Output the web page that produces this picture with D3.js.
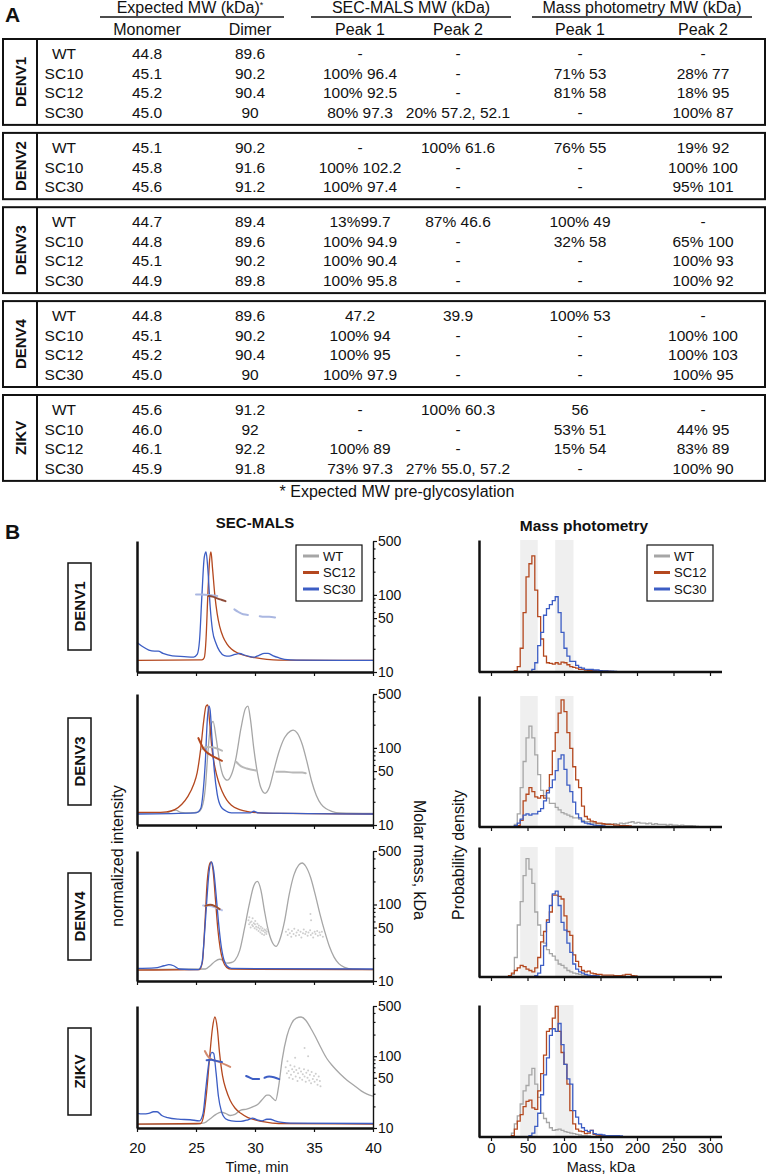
<!DOCTYPE html>
<html>
<head>
<meta charset="utf-8">
<script src="https://cdn.jsdelivr.net/npm/d3@7/dist/d3.min.js"></script>
<style>
html,body{margin:0;padding:0;background:#fff;}
svg{display:block;}
text{font-family:"Liberation Sans",Arial,Helvetica,sans-serif;fill:#111;}
</style>
</head>
<body>
<svg id="chart" width="768" height="1176"></svg>
<script>
// ================= DATA: TABLE (panel A) =================
const groupNames = ["DENV1","DENV2","DENV3","DENV4","ZIKV"];
const groupSizes = [4,3,4,4,4];
const headerGroups = ["Expected MW (kDa)","SEC-MALS MW (kDa)","Mass photometry MW (kDa)"];
const columnHeaders = ["Monomer","Dimer","Peak 1","Peak 2","Peak 1","Peak 2"];
const constructs = ["WT","SC10","SC12","SC30","WT","SC10","SC30","WT","SC10","SC12","SC30","WT","SC10","SC12","SC30","WT","SC10","SC12","SC30"];
const monomerMW = ["44.8","45.1","45.2","45.0","45.1","45.8","45.6","44.7","44.8","45.1","44.9","44.8","45.1","45.2","45.0","45.6","46.0","46.1","45.9"];
const dimerMW = ["89.6","90.2","90.4","90","90.2","91.6","91.2","89.4","89.6","90.2","89.8","89.6","90.2","90.4","90","91.2","92","92.2","91.8"];
const secPeak1 = ["-","100% 96.4","100% 92.5","80% 97.3","-","100% 102.2","100% 97.4","13%99.7","100% 94.9","100% 90.4","100% 95.8","47.2","100% 94","100% 95","100% 97.9","-","-","100% 89","73% 97.3"];
const secPeak2 = ["-","-","-","20% 57.2, 52.1","100% 61.6","-","-","87% 46.6","-","-","-","39.9","-","-","-","100% 60.3","-","-","27% 55.0, 57.2"];
const mpPeak1 = ["-","71% 53","81% 58","-","76% 55","-","-","100% 49","32% 58","-","-","100% 53","-","-","-","56","53% 51","15% 54","-"];
const mpPeak2 = ["-","28% 77","18% 95","100% 87","19% 92","100% 100","95% 101","-","65% 100","100% 93","100% 92","-","100% 100","100% 103","100% 95","-","44% 95","83% 89","100% 90"];
const footnote = "* Expected MW pre-glycosylation";

// ================= DATA: SEC-MALS (time min, normalized intensity) =================
const secTicks = [20,25,30,35,40];
const molarTicks = [10,50,100,500];
const molarMinorTicks = [20,30,40,60,70,80,90,200,300,400];
const legendNames = ["WT","SC12","SC30"];

const secDenv1SC30 = [[20,0.17],[20.5,0.13],[21.0,0.10],[21.5,0.09],[21.8,0.09],[22.2,0.07],[23.0,0.047],[24.0,0.04],[24.8,0.035],[25.1,0.06],[25.3,0.19],[25.5,0.6],[25.7,0.95],[25.85,1.0],[26.0,0.85],[26.2,0.5],[26.4,0.28],[26.7,0.16],[27.0,0.09],[27.4,0.05],[27.8,0.045],[28.3,0.06],[28.7,0.07],[29.1,0.055],[29.6,0.04],[29.9,0.035],[30.3,0.05],[30.8,0.07],[31.1,0.07],[31.5,0.05],[32.0,0.03],[32.5,0.015],[33.5,0.008],[40,0.005]];
const secDenv1SC12 = [[20,0.005],[25.5,0.01],[25.7,0.03],[25.85,0.2],[26.0,0.6],[26.15,0.92],[26.27,1.0],[26.4,0.85],[26.6,0.6],[26.8,0.43],[27.0,0.32],[27.3,0.22],[27.6,0.16],[28.0,0.11],[28.5,0.075],[29.0,0.055],[29.5,0.04],[30.0,0.03],[31.0,0.015],[32,0.008],[40,0.005]];

const secDenv3WT = [[20,0.01],[22.5,0.01],[23.0,0.03],[23.3,0.035],[23.7,0.015],[24.5,0.01],[25.2,0.02],[25.5,0.06],[25.8,0.25],[26.0,0.55],[26.2,0.78],[26.45,0.85],[26.7,0.7],[27.0,0.48],[27.3,0.35],[27.65,0.31],[28.0,0.36],[28.4,0.52],[28.8,0.78],[29.2,0.97],[29.4,0.99],[29.6,0.88],[29.9,0.6],[30.2,0.38],[30.5,0.24],[30.85,0.19],[31.2,0.24],[31.6,0.4],[32.0,0.56],[32.5,0.7],[33.0,0.76],[33.25,0.77],[33.6,0.74],[34.0,0.64],[34.4,0.48],[34.8,0.3],[35.2,0.17],[35.6,0.09],[36.0,0.05],[36.5,0.025],[37.2,0.01],[40,0.005]];
const secDenv3SC12 = [[20,0.015],[21.5,0.015],[22.5,0.02],[23.2,0.04],[23.8,0.09],[24.3,0.16],[24.8,0.27],[25.1,0.38],[25.4,0.6],[25.65,0.85],[25.85,0.99],[26.0,1.0],[26.15,0.85],[26.35,0.6],[26.6,0.43],[26.9,0.3],[27.2,0.21],[27.6,0.13],[28.0,0.08],[28.7,0.04],[29.5,0.02],[30.4,0.01],[32,0.005],[40,0.0]];
const secDenv3SC30 = [[20,0.0],[25.0,0.01],[25.4,0.05],[25.6,0.2],[25.8,0.5],[25.95,0.85],[26.1,0.99],[26.2,0.95],[26.35,0.7],[26.55,0.4],[26.8,0.18],[27.1,0.07],[27.5,0.03],[28.0,0.01],[29.6,0.01],[29.9,0.025],[30.3,0.01],[40,0.0]];

const secDenv4WT = [[20,0.005],[25.8,0.01],[26.2,0.04],[26.6,0.08],[27.0,0.1],[27.3,0.09],[27.6,0.065],[28.0,0.07],[28.3,0.09],[28.7,0.18],[29.1,0.38],[29.5,0.6],[29.9,0.78],[30.2,0.82],[30.5,0.74],[30.8,0.55],[31.1,0.38],[31.45,0.26],[31.8,0.22],[32.1,0.28],[32.5,0.45],[32.9,0.7],[33.3,0.88],[33.7,0.97],[34.0,0.99],[34.3,0.96],[34.7,0.86],[35.1,0.7],[35.5,0.52],[35.9,0.36],[36.3,0.22],[36.7,0.12],[37.1,0.06],[37.6,0.025],[38.3,0.008],[40,0.005]];
const secDenv4SC12 = [[20,0.0],[25.3,0.005],[25.55,0.08],[25.75,0.42],[25.95,0.82],[26.15,0.98],[26.27,1.0],[26.45,0.92],[26.65,0.65],[26.85,0.38],[27.05,0.2],[27.3,0.08],[27.6,0.025],[28.0,0.008],[40,0.005]];
const secDenv4SC30 = [[20,0.015],[21.5,0.02],[22.3,0.04],[22.7,0.05],[23.1,0.04],[23.6,0.01],[25.2,0.005],[25.5,0.06],[25.7,0.3],[25.9,0.62],[26.1,0.9],[26.3,1.0],[26.5,0.92],[26.7,0.7],[26.9,0.45],[27.1,0.25],[27.35,0.1],[27.6,0.04],[28.0,0.015],[40,0.01]];

const secZikvWT = [[20,0.0],[25.0,0.0],[25.7,0.01],[26.2,0.05],[26.7,0.09],[27.1,0.11],[27.5,0.1],[27.9,0.08],[28.3,0.09],[28.8,0.13],[29.3,0.14],[29.8,0.16],[30.3,0.19],[30.7,0.24],[31.0,0.27],[31.2,0.27],[31.5,0.24],[31.75,0.22],[32.0,0.35],[32.3,0.6],[32.7,0.82],[33.1,0.94],[33.5,0.99],[33.9,1.0],[34.3,0.97],[34.7,0.9],[35.1,0.82],[35.6,0.71],[36.1,0.61],[36.6,0.54],[37.2,0.47],[37.8,0.41],[38.4,0.36],[39.0,0.31],[39.5,0.28],[40.0,0.26]];
const secZikvSC12 = [[20,0.0],[25.4,0.005],[25.65,0.08],[25.9,0.3],[26.15,0.62],[26.4,0.9],[26.6,1.0],[26.8,0.9],[27.0,0.66],[27.25,0.45],[27.55,0.32],[27.9,0.22],[28.3,0.15],[28.8,0.1],[29.4,0.06],[30.0,0.04],[30.8,0.02],[32,0.005],[40,0.0]];
const secZikvSC30 = [[20,0.1],[20.5,0.095],[21.0,0.1],[21.4,0.115],[21.7,0.115],[22.1,0.08],[22.6,0.06],[23.5,0.045],[24.5,0.04],[25.3,0.03],[25.6,0.1],[25.85,0.35],[26.1,0.58],[26.35,0.67],[26.5,0.66],[26.7,0.48],[26.9,0.26],[27.15,0.12],[27.5,0.05],[28.0,0.03],[28.8,0.025],[29.4,0.04],[29.8,0.055],[30.2,0.04],[30.6,0.03],[31.0,0.045],[31.3,0.045],[31.7,0.03],[32.3,0.015],[33.0,0.008],[40,0.005]];

// molar mass traces (time min, kDa)
const mmDenv1SC30a = [[25.0,101],[25.5,101],[26.0,100],[26.5,98],[26.8,97]];
const mmDenv1SC30b = [[28.25,65],[28.6,60],[29.0,56],[29.4,55]];
const mmDenv1SC30c = [[30.4,53],[30.8,52],[31.2,52],[31.7,51]];
const mmDenv1SC12 = [[26.05,97],[26.4,95],[26.8,90],[27.2,86],[27.5,83]];
const mmDenv3WTa = [[25.5,97],[25.9,103],[26.4,102],[26.8,98],[27.2,92]];
const mmDenv3WTb = [[28.4,66],[28.8,58],[29.3,54],[30.1,51]];
const mmDenv3WTc = [[31.8,49],[32.5,49],[33.2,48],[34.0,48],[34.3,47]];
const mmDenv3SC12 = [[25.2,134],[25.4,115],[25.6,100],[25.9,88],[26.3,80],[26.7,74],[27.2,68]];
const mmDenv4SC30 = [[25.6,97],[26.1,96],[26.6,92],[27.2,84]];
const mmDenv4SC12 = [[25.8,96],[26.2,99],[26.6,95],[27.0,87]];
const mmDenv4WTdots = [[29.45,62],[29.5,55],[29.52,68],[29.6,58],[29.63,50],[29.7,60],[29.76,54],[29.8,66],[29.83,52],[29.9,57],[29.97,49],[30.0,55],[30.02,61],[30.1,51],[30.14,47],[30.2,56],[30.27,50],[30.3,45],[30.33,53],[30.4,48],[30.46,43],[30.5,51],[30.56,46],[30.6,41],[30.63,49],[30.7,45],[30.77,40],[30.8,47],[30.84,43],[30.9,46],[30.96,41],[31.0,44],[31.04,48],
  [32.62,44],[32.77,40],[32.83,47],[32.95,42],[33.07,38],[33.13,45],[33.27,41],[33.33,48],[33.46,39],[33.53,43],[33.66,46],[33.74,40],[33.86,44],[33.93,37],[34.07,42],[34.13,47],[34.26,41],[34.33,44],[34.46,39],[34.53,43],[34.67,46],[34.73,40],[34.87,42],[34.93,37],[35.06,44],[35.13,41],[35.27,45],[35.33,39],[35.47,43],[35.53,40],[35.67,44],[35.75,38],[34.7,75],[34.75,62]];
const mmZikvSC12 = [[25.75,118],[26.0,100],[26.2,93],[26.9,84],[27.9,71]];
const mmZikvSC30a = [[25.9,88],[26.3,89],[26.7,86],[27.2,83]];
const mmZikvSC30b = [[29.25,53],[29.6,50],[29.9,48],[30.35,48]];
const mmZikvSC30c = [[30.8,50],[31.2,52],[31.6,51],[32.05,48]];
const mmZikvWTdots = [[32.6,70],[32.7,58],[32.75,85],[32.85,62],[32.9,50],[33.0,75],[33.05,55],[33.15,66],[33.2,48],[33.3,60],[33.35,72],[33.45,52],[33.5,64],[33.6,45],[33.65,58],[33.75,68],[33.8,50],[33.9,61],[34.0,47],[34.05,56],[34.15,66],[34.2,52],[34.3,44],[34.35,59],[34.45,50],[34.5,63],[34.6,46],[34.65,55],[34.75,42],[34.8,60],[34.9,48],[35.0,53],[35.05,44],[35.15,57],[35.25,47],[35.3,40],[35.4,52],[35.5,45],[35.55,38],[34.2,130],[34.5,100],[33.4,95]];

// ================= DATA: Mass photometry histograms (4 kDa bins starting at 20 kDa) =================
const massTicks = [0,50,100,150,200,250,300];
const massBands = [[40,64],[88,113]];
const mpDenv1SC12 = [0,0,0,0.01,0.04,0.18,0.45,0.72,0.82,0.88,0.62,0.42,0.25,0.12,0.07,0.065,0.06,0.07,0.06,0.075,0.07,0.055,0.04,0.035,0.03,0.02,0.02,0.015,0.012,0.01,0.01,0.008,0.008,0.006,0.006,0.005];
const mpDenv1SC30 = [0,0,0,0,0,0,0,0,0,0.02,0.07,0.2,0.3,0.43,0.48,0.51,0.54,0.57,0.45,0.3,0.18,0.12,0.08,0.08,0.05,0.035,0.03,0.02,0.02,0.02,0.015,0.015,0.01,0.008,0.008,0.006,0.006,0.005];
const mpDenv3WT = [0,0,0,0.02,0.1,0.3,0.5,0.68,0.77,0.68,0.55,0.4,0.28,0.24,0.22,0.18,0.18,0.15,0.13,0.11,0.1,0.09,0.08,0.07,0.07,0.06,0.05,0.04,0.04,0.03,0.03,0.025,0.025,0.02,0.025,0.025,0.02,0.025,0.02,0.03,0.025,0.03,0.035,0.04,0.03,0.035,0.03,0.03,0.025,0.03,0.02,0.025,0.02,0.02,0.02,0.015,0.02,0.015,0.015,0.01,0.015,0.01,0.01,0.01,0.008,0.005];
const mpDenv3SC12 = [0,0,0,0,0.01,0.05,0.2,0.25,0.3,0.27,0.23,0.22,0.24,0.22,0.28,0.4,0.58,0.72,0.87,0.97,0.88,0.72,0.6,0.46,0.36,0.3,0.16,0.08,0.06,0.045,0.04,0.03,0.03,0.025,0.02,0.02,0.02,0.015,0.015,0.01,0.01,0.01,0.008];
const mpDenv3SC30 = [0,0,0,0.01,0.03,0.06,0.09,0.1,0.09,0.1,0.1,0.12,0.14,0.2,0.26,0.3,0.36,0.43,0.52,0.55,0.44,0.32,0.27,0.19,0.1,0.07,0.04,0.03,0.025,0.02,0.015,0.01,0.01,0.008];
const mpDenv4WT = [0,0,0.02,0.15,0.4,0.58,0.78,0.91,0.83,0.72,0.5,0.4,0.32,0.26,0.21,0.18,0.16,0.13,0.1,0.09,0.07,0.05,0.04,0.03,0.025,0.02,0.015,0.01,0.01,0.008];
const mpDenv4SC12 = [0,0.01,0.03,0.05,0.07,0.09,0.08,0.06,0.05,0.04,0.07,0.15,0.27,0.35,0.44,0.5,0.63,0.63,0.62,0.6,0.47,0.35,0.32,0.17,0.12,0.08,0.05,0.04,0.045,0.03,0.025,0.02,0.02,0.015,0.015,0.015,0.015,0.01,0.01,0.01,0.015,0.02,0.02,0.01,0.008];
const mpDenv4SC30 = [0,0,0,0,0,0,0,0,0,0,0.01,0.03,0.09,0.24,0.42,0.55,0.64,0.66,0.55,0.42,0.36,0.26,0.19,0.1,0.06,0.04,0.03,0.02,0.015,0.01,0.01,0.008];
const mpZikvWT = [0,0,0.03,0.1,0.16,0.25,0.35,0.39,0.47,0.52,0.4,0.3,0.18,0.14,0.11,0.07,0.05,0.055,0.06,0.05,0.04,0.035,0.03,0.025,0.02,0.015,0.01,0.01,0.008];
const mpZikvSC12 = [0,0,0.01,0.06,0.12,0.17,0.23,0.27,0.28,0.22,0.21,0.35,0.48,0.62,0.8,0.82,0.9,0.99,0.8,0.64,0.55,0.4,0.2,0.1,0.06,0.045,0.04,0.025,0.03,0.05,0.02,0.015,0.01,0.01,0.008];
const mpZikvSC30 = [0,0,0,0,0,0,0,0,0.01,0.03,0.08,0.18,0.32,0.47,0.6,0.77,0.82,0.8,0.86,0.7,0.55,0.44,0.4,0.2,0.15,0.1,0.07,0.05,0.04,0.05,0.025,0.02,0.02,0.015,0.01,0.01,0.01,0.01,0.01,0.008];

// ================= DRAWING =================
const svg = d3.select("#chart");
const COLOR = {WT:"#a6a6a6", SC12:"#b4481f", SC30:"#3c5dc4"};
const INK = "#111";

// ---------- Panel A: table ----------
const T = {left:3, right:765, sep:37, top:39, rowH:19.6, pad:7.5, gap:8, fs:15.5};
const colKeys = ["construct","mono","dim","p1","p2","m1","m2"];
const colX = d3.scaleOrdinal().domain(colKeys).range([64,147,250,360,458,580,703]);
const colVals = [constructs, monomerMW, dimerMW, secPeak1, secPeak2, mpPeak1, mpPeak2];

svg.append("text").attr("x",5).attr("y",22).attr("font-size",21).attr("font-weight","bold").text("A");

const hdrSpan = [[100,284],[311,511],[532,752]];
headerGroups.forEach((h,i)=>{
  const [x0,x1] = hdrSpan[i];
  const t = svg.append("text").attr("x",(x0+x1)/2 - (i===0?2:0)).attr("y",12.5).attr("text-anchor","middle").attr("font-size",16).text(h);
  if(i===0) t.append("tspan").attr("font-size",9).attr("dy",-5).text("*");
  svg.append("line").attr("x1",x0).attr("x2",x1).attr("y1",17).attr("y2",17).attr("stroke",INK).attr("stroke-width",1.3);
});
columnHeaders.forEach((h,i)=>{
  svg.append("text").attr("x",colX(colKeys[i+1])).attr("y",34.5).attr("text-anchor","middle").attr("font-size",16).text(h);
});

let yCur = T.top, r = 0;
groupNames.forEach((g,gi)=>{
  const n = groupSizes[gi];
  const h = T.pad + n*T.rowH;
  svg.append("rect").attr("x",T.left).attr("y",yCur).attr("width",T.right-T.left).attr("height",h)
    .attr("fill","none").attr("stroke",INK).attr("stroke-width",2);
  svg.append("line").attr("x1",T.sep).attr("x2",T.sep).attr("y1",yCur).attr("y2",yCur+h).attr("stroke",INK).attr("stroke-width",2);
  svg.append("text").attr("transform",`translate(${(T.left+T.sep)/2+1},${yCur+h/2}) rotate(-90)`)
    .attr("text-anchor","middle").attr("dy","0.36em").attr("font-weight","bold").attr("font-size",15).text(g);
  for(let i=0;i<n;i++,r++){
    const yy = yCur + 14.5 + i*T.rowH;
    colVals.forEach((arr,ci)=>{
      svg.append("text").attr("x",colX(colKeys[ci])).attr("y",yy).attr("dy","0.36em")
        .attr("text-anchor","middle").attr("font-size",T.fs).text(arr[r]);
    });
  }
  yCur += h + T.gap;
});
svg.append("text").attr("x",397).attr("y",yCur+2).attr("dy","0.36em").attr("text-anchor","middle").attr("font-size",16).text(footnote);

// ---------- Panel B ----------
svg.append("text").attr("x",5).attr("y",539).attr("font-size",21).attr("font-weight","bold").text("B");
svg.append("text").attr("x",255).attr("y",528).attr("text-anchor","middle").attr("font-size",15).attr("font-weight","bold").text("SEC-MALS");
svg.append("text").attr("x",584).attr("y",531).attr("text-anchor","middle").attr("font-size",15.5).attr("font-weight","bold").text("Mass photometry");

const xT = d3.scaleLinear().domain([20,40]).range([137,373]);
const xM = d3.scaleLinear().domain([0,300]).range([491,710]);

const secPanels = [
  {name:"DENV1", top:541, bottom:672, dom:[-0.101,1.101], box:[563,650], legend:true,
   traces:[["SC12",secDenv1SC12],["SC30",secDenv1SC30]],
   mm:[["#aab7e1",mmDenv1SC30a],["#aab7e1",mmDenv1SC30b],["#aab7e1",mmDenv1SC30c],["#8d4a38",mmDenv1SC12]], dots:null},
  {name:"DENV3", top:694, bottom:825, dom:[-0.101,1.101], box:[718,805], legend:false,
   traces:[["WT",secDenv3WT],["SC12",secDenv3SC12],["SC30",secDenv3SC30]],
   mm:[["#b8b8b8",mmDenv3WTa],["#b8b8b8",mmDenv3WTb],["#b8b8b8",mmDenv3WTc],["#b4481f",mmDenv3SC12]], dots:null},
  {name:"DENV4", top:851, bottom:981, dom:[-0.101,1.101], box:[873,960], legend:false,
   traces:[["WT",secDenv4WT],["SC12",secDenv4SC12],["SC30",secDenv4SC30]],
   mm:[["#b9c4ea",mmDenv4SC30],["#a0502e",mmDenv4SC12]], dots:mmDenv4WTdots},
  {name:"ZIKV", top:1006, bottom:1128, dom:[-0.037,1.103], box:[1028,1115], legend:false, last:true,
   traces:[["WT",secZikvWT],["SC12",secZikvSC12],["SC30",secZikvSC30]],
   mm:[["#d38a6e",mmZikvSC12],["#3c5dc4",mmZikvSC30a],["#3c5dc4",mmZikvSC30b],["#3c5dc4",mmZikvSC30c]], dots:mmZikvWTdots}
];

const mpPanels = [
  {top:540, bottom:672, legend:true, series:[["SC12",mpDenv1SC12],["SC30",mpDenv1SC30]]},
  {top:696, bottom:827, series:[["WT",mpDenv3WT],["SC12",mpDenv3SC12],["SC30",mpDenv3SC30]]},
  {top:847, bottom:977, series:[["WT",mpDenv4WT],["SC12",mpDenv4SC12],["SC30",mpDenv4SC30]]},
  {top:1005, bottom:1137, last:true, series:[["WT",mpZikvWT],["SC12",mpZikvSC12],["SC30",mpZikvSC30]]}
];

function styleAxis(g, w){
  g.selectAll("path.domain").attr("stroke",INK).attr("stroke-width",w);
  g.selectAll(".tick line").attr("stroke",INK).attr("stroke-width",1.2);
  g.selectAll(".tick text").attr("fill",INK).style("font-family",'"Liberation Sans",Arial,sans-serif');
}

function legend(x, y){
  const g = svg.append("g").attr("transform",`translate(${x},${y})`);
  g.append("rect").attr("width",66).attr("height",56).attr("fill","#fff").attr("stroke",INK).attr("stroke-width",1.2);
  legendNames.forEach((n,i)=>{
    const yy = 11 + i*16.5;
    g.append("line").attr("x1",7).attr("x2",23).attr("y1",yy).attr("y2",yy).attr("stroke",COLOR[n]).attr("stroke-width",3);
    g.append("text").attr("x",27).attr("y",yy).attr("dy","0.36em").attr("font-size",13).text(n);
  });
}

secPanels.forEach(p=>{
  const yI = d3.scaleLinear().domain(p.dom).range([p.bottom,p.top]);
  const yMM = d3.scaleLog().domain([10,500]).range([p.bottom,p.top]);
  svg.append("rect").attr("x",68).attr("y",p.box[0]).attr("width",23).attr("height",p.box[1]-p.box[0])
    .attr("fill","#fff").attr("stroke",INK).attr("stroke-width",1.5);
  svg.append("text").attr("transform",`translate(80,${(p.box[0]+p.box[1])/2}) rotate(-90)`).attr("text-anchor","middle")
    .attr("dy","0.36em").attr("font-weight","bold").attr("font-size",15).text(p.name);
  const line = d3.line().x(d=>xT(d[0])).y(d=>yI(d[1])).curve(d3.curveMonotoneX);
  p.traces.forEach(([k,data])=>{
    svg.append("path").attr("d",line(data)).attr("fill","none").attr("stroke",COLOR[k]).attr("stroke-width",1.3);
  });
  const mline = d3.line().x(d=>xT(d[0])).y(d=>yMM(d[1])).curve(d3.curveMonotoneX);
  if(p.dots){
    svg.append("g").selectAll("circle").data(p.dots).join("circle")
      .attr("cx",d=>xT(d[0])).attr("cy",d=>yMM(d[1])).attr("r",1.0).attr("fill","#c6c6c6").attr("opacity",0.85);
  }
  p.mm.forEach(([c,data])=>{
    svg.append("path").attr("d",mline(data)).attr("fill","none").attr("stroke",c).attr("stroke-width",2).attr("stroke-linecap","round");
  });
  const gL = svg.append("g").attr("transform","translate(137,0)").call(d3.axisLeft(yI).tickValues([]).tickSizeOuter(0));
  styleAxis(gL,2.5);
  const gR = svg.append("g").attr("transform","translate(373,0)")
    .call(d3.axisRight(yMM).tickValues(molarTicks).tickFormat(d3.format("d")).tickSize(4).tickSizeOuter(0).tickPadding(1));
  styleAxis(gR,1.4);
  gR.selectAll(".tick text").attr("font-size",14);
  const gR2 = svg.append("g").attr("transform","translate(373,0)")
    .call(d3.axisRight(yMM).tickValues(molarMinorTicks).tickFormat("").tickSize(2.5).tickSizeOuter(0));
  gR2.select("path.domain").remove();
  styleAxis(gR2,1);
  const gB = svg.append("g").attr("transform",`translate(0,${p.bottom})`)
    .call(d3.axisBottom(xT).tickValues(secTicks).tickSize(4).tickSizeOuter(0).tickPadding(10).tickFormat(p.last? d3.format("d") : ""));
  styleAxis(gB,2.5);
  gB.selectAll(".tick text").attr("font-size",15);
  if(p.legend) legend(296,545);
});

svg.append("text").attr("x",257).attr("y",1172).attr("text-anchor","middle").attr("font-size",14.5).text("Time, min");
svg.append("text").attr("transform","translate(123,856) rotate(-90)").attr("text-anchor","middle").attr("font-size",16).text("normalized intensity");
svg.append("text").attr("transform","translate(414,860) rotate(90)").attr("text-anchor","middle").attr("font-size",16).text("Molar mass, kDa");

mpPanels.forEach(p=>{
  const yP = d3.scaleLinear().domain([0,1]).range([p.bottom,p.top]);
  massBands.forEach(([a,b])=>{
    svg.append("rect").attr("x",xM(a)).attr("y",p.top).attr("width",xM(b)-xM(a)).attr("height",p.bottom-p.top).attr("fill","#efefef");
  });
  const step = d3.line().x(d=>xM(d[0])).y(d=>yP(d[1])).curve(d3.curveStepAfter);
  p.series.forEach(([k,vals])=>{
    const pts = [[-10,0],[20,vals[0]]];
    vals.forEach((v,i)=>{ if(i>0) pts.push([20+4*i,v]); });
    pts.push([20+4*vals.length,0]); pts.push([305,0]);
    svg.append("path").attr("d",step(pts)).attr("fill","none").attr("stroke",COLOR[k]).attr("stroke-width",1.3);
  });
  const gL = svg.append("g").attr("transform","translate(479,0)").call(d3.axisLeft(yP).tickValues([]).tickSizeOuter(0));
  styleAxis(gL,2.5);
  const gB = svg.append("g").attr("transform",`translate(0,${p.bottom})`)
    .call(d3.axisBottom(xM).tickValues(massTicks).tickSize(4).tickSizeOuter(0).tickPadding(1).tickFormat(p.last? d3.format("d") : ""));
  gB.select("path.domain").remove();
  gB.append("line").attr("x1",479).attr("x2",722).attr("stroke",INK).attr("stroke-width",2.5);
  styleAxis(gB,2.5);
  gB.selectAll(".tick text").attr("font-size",15);
  if(p.legend) legend(647,545);
});

svg.append("text").attr("x",601).attr("y",1172).attr("text-anchor","middle").attr("font-size",14.5).text("Mass, kDa");
svg.append("text").attr("transform","translate(464,855) rotate(-90)").attr("text-anchor","middle").attr("font-size",16).text("Probability density");
</script>
</body>
</html>
